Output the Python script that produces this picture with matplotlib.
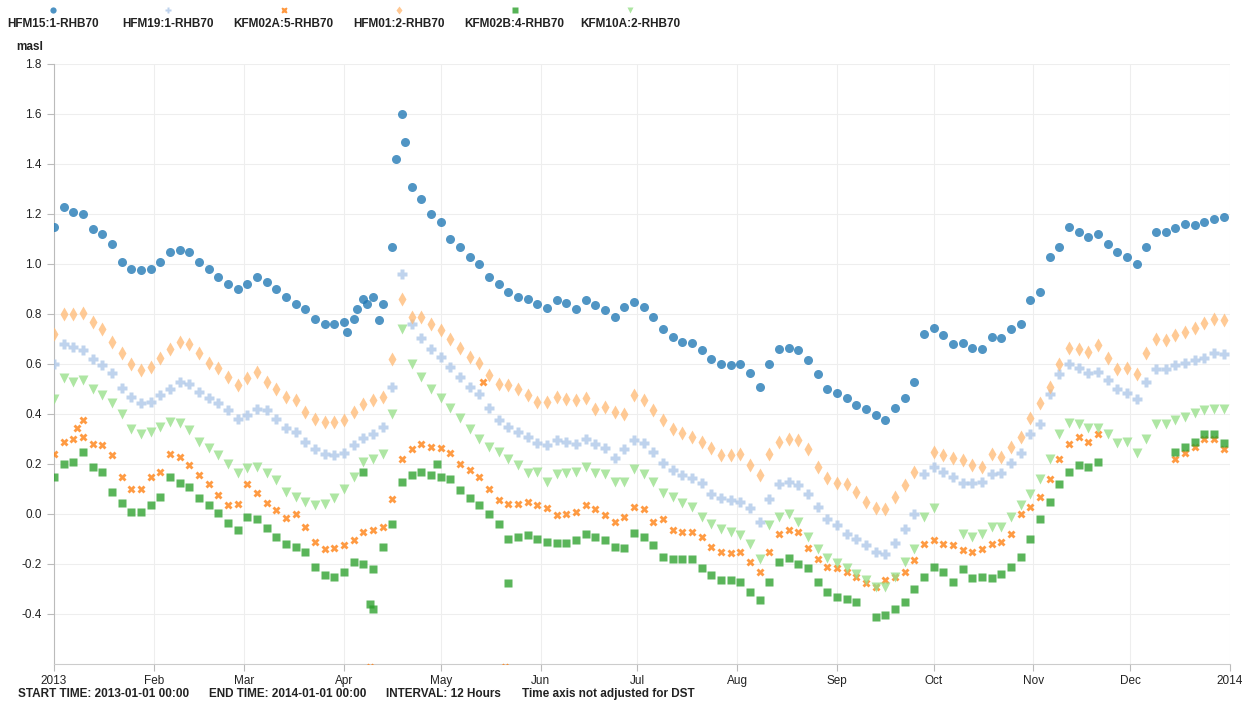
import numpy as np
import pandas as pd
import matplotlib
matplotlib.use("Agg")
import matplotlib.pyplot as plt
from matplotlib.lines import Line2D

plt.rcParams["font.family"] = ["Liberation Sans", "DejaVu Sans"]
plt.rcParams["axes.unicode_minus"] = False

nan = np.nan

# groundwater levels (masl), one reading every third day through 2013
days = pd.date_range("2013-01-01", periods=122, freq="3D")

hfm15 = [1.15, 1.23, 1.21, 1.20, 1.14, 1.12, 1.08, 1.01, 0.98, 0.975,
         0.98, 1.01, 1.05, 1.055, 1.05, 1.01, 0.98, 0.95, 0.92, 0.90,
         0.92, 0.95, 0.93, 0.90, 0.87, 0.84, 0.82, 0.78, 0.76, 0.76,
         0.77, 0.78, 0.86, 0.87, 0.84, 1.07, 1.60, 1.31, 1.26, 1.20,
         1.17, 1.10, 1.07, 1.03, 1.00, 0.95, 0.92, 0.89, 0.87, 0.86,
         0.84, 0.825, 0.855, 0.845, 0.82, 0.855, 0.835, 0.815, 0.79, 0.83,
         0.85, 0.83, 0.79, 0.74, 0.71, 0.69, 0.685, 0.655, 0.62, 0.60,
         0.595, 0.60, 0.565, 0.51, 0.60, 0.66, 0.665, 0.655, 0.615, 0.56,
         0.50, 0.485, 0.465, 0.435, 0.42, 0.395, 0.375, 0.425, 0.465, 0.53,
         0.72, 0.745, 0.715, 0.68, 0.685, 0.665, 0.66, 0.71, 0.705, 0.74,
         0.76, 0.855, 0.89, 1.03, 1.07, 1.15, 1.13, 1.11, 1.12, 1.08,
         1.05, 1.03, 1.00, 1.07, 1.13, 1.13, 1.145, 1.16, 1.155, 1.17,
         1.18, 1.19]

hfm19 = [0.60, 0.68, 0.67, 0.655, 0.62, 0.595, 0.565, 0.505, 0.47, 0.445,
         0.45, 0.475, 0.50, 0.53, 0.52, 0.49, 0.465, 0.445, 0.415, 0.38,
         0.395, 0.42, 0.415, 0.38, 0.345, 0.33, 0.29, 0.26, 0.24, 0.235,
         0.245, 0.275, 0.305, 0.32, 0.35, 0.51, 0.96, 0.76, 0.705, 0.66,
         0.63, 0.59, 0.55, 0.51, 0.48, 0.425, 0.375, 0.35, 0.33, 0.31,
         0.285, 0.277, 0.297, 0.29, 0.28, 0.30, 0.28, 0.265, 0.225, 0.26,
         0.295, 0.285, 0.25, 0.205, 0.175, 0.155, 0.145, 0.125, 0.08, 0.065,
         0.057, 0.05, 0.024, -0.03, 0.06, 0.12, 0.13, 0.115, 0.08, 0.03,
         -0.02, -0.045, -0.08, -0.10, -0.125, -0.15, -0.16, -0.115, -0.06, 0.00,
         0.16, 0.19, 0.17, 0.15, 0.125, 0.125, 0.13, 0.16, 0.165, 0.205,
         0.245, 0.32, 0.36, 0.48, 0.56, 0.60, 0.585, 0.565, 0.57, 0.535,
         0.50, 0.485, 0.46, 0.53, 0.58, 0.58, 0.595, 0.605, 0.615, 0.625,
         0.645, 0.64]

kfm02a = [0.24, 0.29, 0.30, 0.31, 0.28, 0.275, 0.235, 0.15, 0.10, 0.10,
          0.15, 0.17, 0.24, 0.23, 0.195, 0.155, 0.12, 0.075, 0.035, 0.04,
          0.12, 0.085, 0.045, 0.015, -0.015, 0.00, -0.05, -0.11, -0.14, -0.135,
          -0.125, -0.105, -0.07, -0.065, -0.05, 0.06, 0.22, 0.26, 0.28, 0.27,
          0.265, 0.245, 0.20, 0.175, 0.15, 0.10, 0.055, 0.04, 0.04, 0.05,
          0.035, 0.025, -0.005, 0.00, 0.01, 0.035, 0.02, -0.005, -0.03, -0.01,
          0.03, 0.02, -0.03, -0.02, -0.065, -0.07, -0.07, -0.09, -0.13, -0.15,
          -0.155, -0.15, -0.19, -0.23, -0.15, -0.08, -0.065, -0.07, -0.135, -0.18,
          -0.21, -0.215, -0.23, -0.25, -0.275, -0.29, -0.265, -0.25, -0.23, -0.185,
          -0.12, -0.105, -0.12, -0.125, -0.145, -0.15, -0.14, -0.12, -0.11, -0.08,
          0.00, 0.03, 0.07, 0.14, 0.22, 0.28, 0.31, 0.29, 0.32, nan,
          nan, nan, nan, nan, nan, nan, 0.22, 0.245, 0.27, 0.30,
          0.30, 0.26]

hfm01 = [0.72, 0.80, 0.80, 0.805, 0.77, 0.74, 0.69, 0.645, 0.60, 0.575,
         0.59, 0.625, 0.66, 0.69, 0.68, 0.645, 0.605, 0.585, 0.55, 0.515,
         0.545, 0.57, 0.53, 0.50, 0.47, 0.455, 0.41, 0.38, 0.37, 0.37,
         0.375, 0.41, 0.44, 0.455, 0.47, 0.62, 0.86, 0.79, 0.79, 0.76,
         0.735, 0.70, 0.665, 0.63, 0.605, 0.555, 0.52, 0.515, 0.50, 0.475,
         0.45, 0.45, 0.47, 0.46, 0.455, 0.465, 0.42, 0.43, 0.41, 0.40,
         0.475, 0.455, 0.415, 0.375, 0.34, 0.325, 0.31, 0.29, 0.265, 0.235,
         0.235, 0.24, 0.195, 0.155, 0.24, 0.29, 0.30, 0.295, 0.26, 0.19,
         0.145, 0.125, 0.12, 0.09, 0.05, 0.025, 0.02, 0.07, 0.115, 0.17,
         nan, 0.25, 0.235, 0.225, 0.215, 0.195, 0.19, 0.24, 0.23, 0.27,
         0.31, 0.385, 0.445, 0.51, 0.60, 0.665, 0.66, 0.65, 0.675, 0.625,
         0.58, 0.585, 0.56, 0.645, 0.70, 0.695, 0.715, 0.73, 0.745, 0.765,
         0.78, 0.775]

kfm02b = [0.15, 0.20, 0.21, 0.25, 0.19, 0.17, 0.09, 0.045, 0.01, 0.01,
          0.035, 0.07, 0.15, 0.125, 0.11, 0.065, 0.035, 0.005, -0.035, -0.065,
          -0.01, -0.02, -0.055, -0.09, -0.12, -0.13, -0.15, -0.21, -0.245, -0.25,
          -0.23, -0.19, -0.20, -0.22, -0.13, -0.04, 0.13, 0.155, 0.17, 0.155,
          0.15, 0.14, 0.095, 0.065, 0.035, 0.00, -0.04, -0.10, -0.09, -0.085,
          -0.10, -0.11, -0.115, -0.115, -0.105, -0.08, -0.09, -0.105, -0.13, -0.135,
          -0.075, -0.09, -0.125, -0.17, -0.18, -0.18, -0.18, -0.215, -0.245, -0.265,
          -0.265, -0.27, -0.31, -0.345, -0.27, -0.19, -0.175, -0.20, -0.215, -0.27,
          -0.31, -0.33, -0.34, -0.35, nan, -0.41, -0.405, -0.38, -0.35, -0.30,
          -0.25, -0.21, -0.23, -0.27, -0.22, -0.255, -0.25, -0.255, -0.24, -0.21,
          -0.17, -0.10, -0.02, 0.05, 0.12, 0.17, 0.195, 0.19, 0.21, nan,
          nan, nan, nan, nan, nan, nan, 0.25, 0.27, 0.29, 0.32,
          0.32, 0.285]

kfm10a = [0.46, 0.545, 0.53, 0.535, 0.50, 0.475, 0.445, 0.40, 0.34, 0.32,
          0.33, 0.35, 0.37, 0.365, 0.335, 0.29, 0.265, 0.235, 0.20, 0.165,
          0.185, 0.19, 0.165, 0.135, 0.09, 0.07, 0.05, 0.035, 0.04, 0.065,
          0.10, 0.15, 0.21, 0.22, 0.24, 0.40, 0.74, 0.60, 0.55, 0.50,
          0.465, 0.425, 0.385, 0.34, 0.30, 0.27, 0.25, 0.22, 0.195, 0.165,
          0.17, 0.13, 0.16, 0.165, 0.17, 0.19, 0.165, 0.16, 0.13, 0.13,
          0.18, 0.16, 0.13, 0.085, 0.07, 0.045, 0.03, -0.01, -0.04, -0.06,
          -0.07, -0.085, -0.12, -0.18, -0.045, -0.01, 0.00, -0.03, -0.09, -0.14,
          -0.175, -0.195, -0.215, -0.24, -0.265, -0.29, -0.29, -0.25, -0.19, -0.14,
          -0.01, 0.025, nan, nan, -0.08, -0.09, -0.08, -0.05, -0.05, -0.01,
          0.035, 0.08, 0.14, 0.22, 0.32, 0.365, 0.36, 0.345, 0.345, 0.32,
          0.285, 0.29, 0.245, 0.30, 0.36, 0.36, 0.375, 0.39, 0.405, 0.415,
          0.42, 0.42]

# single readings that stray from the regular band
hfm15_extra_days = ["2013-04-02", "2013-04-05", "2013-04-08", "2013-04-12", "2013-04-17", "2013-04-20"]
hfm15_extra_vals = [0.73, 0.82, 0.84, 0.775, 1.42, 1.49]
kfm02a_extra_days = ["2013-01-08", "2013-01-10", "2013-04-09", "2013-05-14", "2013-05-21"]
kfm02a_extra_vals = [0.345, 0.376, -0.61, 0.53, -0.61]
kfm02b_extra_days = ["2013-04-07", "2013-04-09", "2013-04-10", "2013-04-30", "2013-05-22"]
kfm02b_extra_vals = [0.17, -0.36, -0.38, 0.20, -0.275]

names = ["HFM15:1-RHB70", "HFM19:1-RHB70", "KFM02A:5-RHB70",
         "HFM01:2-RHB70", "KFM02B:4-RHB70", "KFM10A:2-RHB70"]
colors = ["#1f77b4", "#aec7e8", "#ff7f0e", "#ffbb78", "#2ca02c", "#98df8a"]
markers = ["o", "P", "X", "d", "s", "v"]
sizes = [6.5, 7.0, 6.3, 7.0, 5.8, 7.2]
series = [hfm15, hfm19, kfm02a, hfm01, kfm02b, kfm10a]
extras = {0: (hfm15_extra_days, hfm15_extra_vals),
          2: (kfm02a_extra_days, kfm02a_extra_vals),
          4: (kfm02b_extra_days, kfm02b_extra_vals)}

W, H = 1255, 704
fig = plt.figure(figsize=(W / 100, H / 100), dpi=100)
ax = fig.add_axes([54 / W, 40 / H, 1176 / W, 600 / H])

for i, (vals, c, m, ms) in enumerate(zip(series, colors, markers, sizes)):
    ax.plot(days, vals, linestyle="none", marker=m, ms=ms, color=c,
            mec="none", alpha=0.78, zorder=3 + i)
    if i in extras:
        d, v = extras[i]
        ax.plot(pd.to_datetime(d), v, linestyle="none", marker=m, ms=ms,
                color=c, mec="none", alpha=0.78, zorder=3 + i)

ax.set_xlim(pd.Timestamp("2013-01-01"), pd.Timestamp("2014-01-01"))
ax.set_ylim(-0.6, 1.8)

month_ticks = pd.date_range("2013-01-01", "2014-01-01", freq="MS")
month_labels = ["2013", "Feb", "Mar", "Apr", "May", "Jun", "Jul", "Aug",
                "Sep", "Oct", "Nov", "Dec", "2014"]
ax.set_xticks(month_ticks)
ax.set_xticklabels(month_labels)
yt = np.round(np.arange(-0.4, 1.81, 0.2), 1)
ax.set_yticks(yt)
ax.set_yticklabels([f"{v:.1f}" for v in yt])

ax.grid(True, color="#eeeeee", lw=0.8, zorder=0)
ax.set_axisbelow(True)
for s in ["top", "right"]:
    ax.spines[s].set_visible(False)
ax.spines["left"].set_color("#bbbbbb")
ax.spines["bottom"].set_color("#cccccc")
ax.tick_params(axis="both", colors="#bbbbbb", labelcolor="#222222",
               labelsize=8.5, length=5, width=0.8)
ax.tick_params(axis="y", pad=4)
ax.tick_params(axis="x", pad=3)

fig.text(16 / W, 1 - 47 / H, "masl", fontsize=8.5, fontweight="bold",
         va="center", ha="left", color="#222222")

# legend row across the top
for i, (name, c, m) in enumerate(zip(names, colors, markers)):
    x = (53 + i * 115.4) / W
    fig.add_artist(Line2D([x], [1 - 10 / H], marker=m, ms=4.5, color=c,
                          mec="none", alpha=0.8, linestyle="none",
                          transform=fig.transFigure))
    fig.text(x, 1 - 24 / H, name, fontsize=8.5, fontweight="bold",
             ha="center", va="center", color="#222222")

footer = [(18, "START TIME: 2013-01-01 00:00"),
          (209, "END TIME: 2014-01-01 00:00"),
          (386, "INTERVAL: 12 Hours"),
          (522, "Time axis not adjusted for DST")]
for x, t in footer:
    fig.text(x / W, 1 - 694 / H, t, fontsize=8.5, fontweight="bold",
             ha="left", va="center", color="#222222")

fig.savefig("out.png", dpi=100)
